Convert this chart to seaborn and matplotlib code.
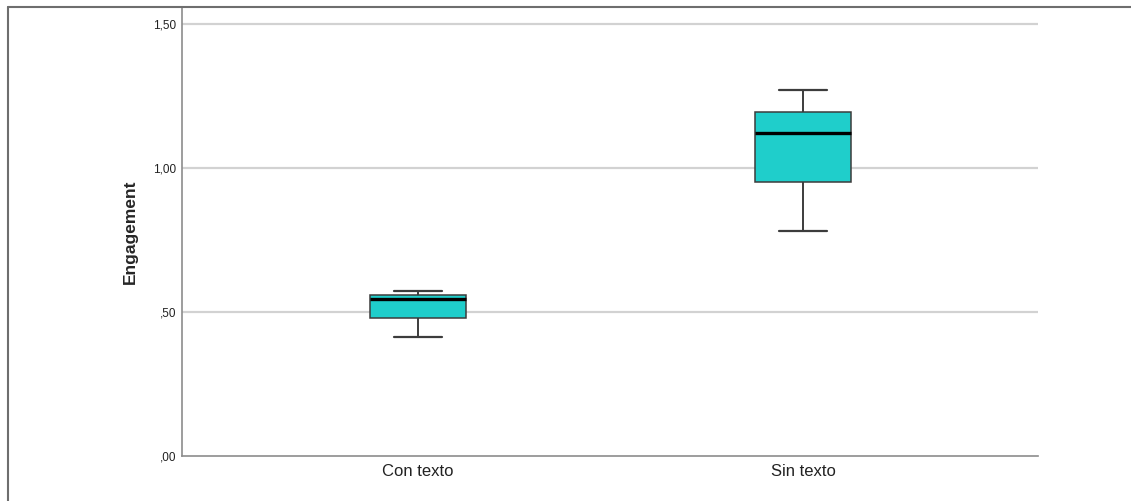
import matplotlib
matplotlib.use("Agg")
import matplotlib.pyplot as plt
from matplotlib.lines import Line2D
from matplotlib.ticker import FixedLocator, FuncFormatter
import pandas as pd
import seaborn as sns

# Five-number summaries (min, Q1, median, Q3, max) of engagement per group
groups = ["Con texto", "Sin texto"]
con_texto = [0.413, 0.478, 0.544, 0.559, 0.573]
sin_texto = [0.781, 0.951, 1.121, 1.196, 1.271]
y_ticks = [0.0, 0.5, 1.0, 1.5]

df = pd.DataFrame({
    "grupo": [groups[0]] * len(con_texto) + [groups[1]] * len(sin_texto),
    "Engagement": con_texto + sin_texto,
})

sns.set_style("white")
plt.rcParams["font.family"] = ["Liberation Sans", "DejaVu Sans"]

W, H = 1131, 501
fig = plt.figure(figsize=(W / 100, H / 100), dpi=100)
ax = fig.add_axes([182 / W, 1 - 456 / H, (1038 - 182) / W, (456 - 8) / H])

ax.set_ylim(0, 1.556)
ax.yaxis.set_major_locator(FixedLocator(y_ticks))
for t in y_ticks[1:]:
    ax.axhline(t, color="#D2D2D2", lw=1.6, zorder=0)

sns.boxplot(
    data=df, x="grupo", y="Engagement", order=groups, ax=ax,
    color="#1FCECB", saturation=1, width=0.25, whis=(0, 100),
    linecolor="#3C3C3C", linewidth=1.1, fliersize=0,
    medianprops=dict(color="black", linewidth=2.4),
    whiskerprops=dict(color="#3C3C3C", linewidth=1.4),
    capprops=dict(color="#3C3C3C", linewidth=1.6),
)
ax.set_xlim(-0.613, 1.61)

def fmt(v, pos):
    s = f"{v:.2f}".replace(".", ",")
    return s[1:] if s.startswith("0") else s

ax.yaxis.set_major_formatter(FuncFormatter(fmt))
ax.tick_params(axis="y", length=0, pad=4, labelsize=8.5, colors="#222222")
ax.tick_params(axis="x", length=0, pad=6, labelsize=12, colors="#222222")
ax.set_xlabel("")
ax.set_ylabel("Engagement", fontsize=12.5, fontweight="bold", labelpad=11)

for side in ("top", "right"):
    ax.spines[side].set_visible(False)
for side in ("left", "bottom"):
    ax.spines[side].set_color("#8C8C8C")
    ax.spines[side].set_linewidth(1.2)

# Outer frame along the top and left edges
fig.add_artist(Line2D([7.5 / W, 1], [1 - 6.5 / H, 1 - 6.5 / H],
                      transform=fig.transFigure, color="#6E6E6E", lw=1.5))
fig.add_artist(Line2D([7.5 / W, 7.5 / W], [0, 1 - 6.5 / H],
                      transform=fig.transFigure, color="#6E6E6E", lw=1.5))

fig.savefig("out.png", dpi=100)
